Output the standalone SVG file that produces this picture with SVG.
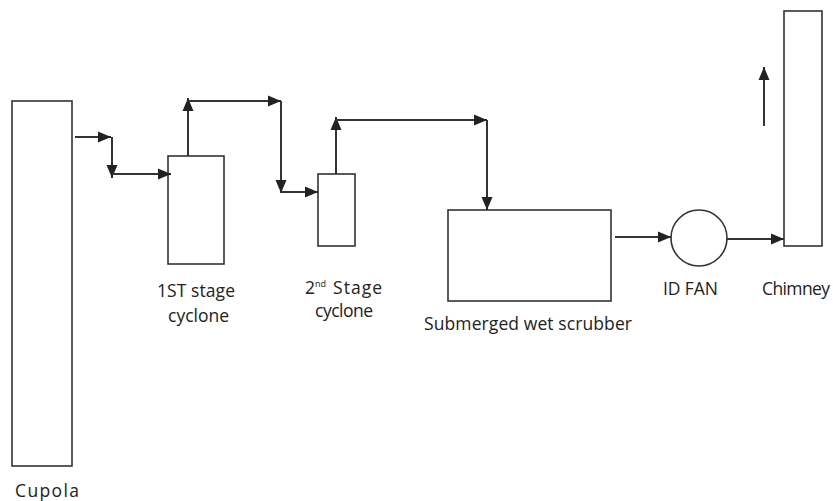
<svg xmlns="http://www.w3.org/2000/svg" width="833" height="501" viewBox="0 0 833 501">
<style>
.box{fill:#fff;stroke:#333;stroke-width:1.6}
.ln{fill:none;stroke:#333;stroke-width:2}
.t{font-family:"Open Sans","Liberation Sans",sans-serif;font-size:17.5px;fill:#222}
</style>
<defs>
<marker id="ah" markerUnits="userSpaceOnUse" markerWidth="14" markerHeight="14" viewBox="0 0 14 14" refX="13" refY="7" orient="auto">
<path d="M0,1.5 L13,7 L0,12.5 Z" fill="#222"/>
</marker>
</defs>
<rect width="833" height="501" fill="#fff"/>
<g id="cupola"><rect class="box" x="12" y="101" width="60" height="365"/><text class="t" x="15" y="497" textLength="64">Cupola</text></g>
<g id="cyclone1"><rect class="box" x="168" y="156" width="56" height="108"/><text class="t" x="157" y="297" textLength="78">1ST stage</text><text class="t" x="168" y="322" textLength="61">cyclone</text></g>
<g id="cyclone2"><rect class="box" x="318" y="174" width="37" height="72"/><text class="t" x="305" y="294">2<tspan font-size="9" dy="-7">nd</tspan><tspan dy="7" x="333" textLength="49">Stage</tspan></text><text class="t" x="315" y="317" textLength="58">cyclone</text></g>
<g id="scrubber"><rect class="box" x="448" y="210" width="163" height="91"/><text class="t" x="424" y="330" textLength="208">Submerged wet scrubber</text></g>
<g id="fan"><circle class="box" cx="699" cy="238" r="28"/><text class="t" x="663" y="295" textLength="55">ID FAN</text></g>
<g id="chimney"><rect class="box" x="784" y="11" width="38" height="235"/><text class="t" x="762" y="295" textLength="68">Chimney</text></g>
<g id="connectors">
<path class="ln" d="M75,137 H111" marker-end="url(#ah)"/>
<path class="ln" d="M112,137 V178" marker-end="url(#ah)"/>
<path class="ln" d="M112,174 H171" marker-end="url(#ah)"/>
<path class="ln" d="M188,156 V98" marker-end="url(#ah)"/>
<path class="ln" d="M188,101 H281" marker-end="url(#ah)"/>
<path class="ln" d="M281,101 V193" marker-end="url(#ah)"/>
<path class="ln" d="M282,192 H318" marker-end="url(#ah)"/>
<path class="ln" d="M336,174 V117" marker-end="url(#ah)"/>
<path class="ln" d="M336,120 H487" marker-end="url(#ah)"/>
<path class="ln" d="M487,120 V210" marker-end="url(#ah)"/>
<path class="ln" d="M615,237 H671" marker-end="url(#ah)"/>
<path class="ln" d="M727,239 H784" marker-end="url(#ah)"/>
<path class="ln" d="M764,126 V67" marker-end="url(#ah)"/>
</g>
</svg>
